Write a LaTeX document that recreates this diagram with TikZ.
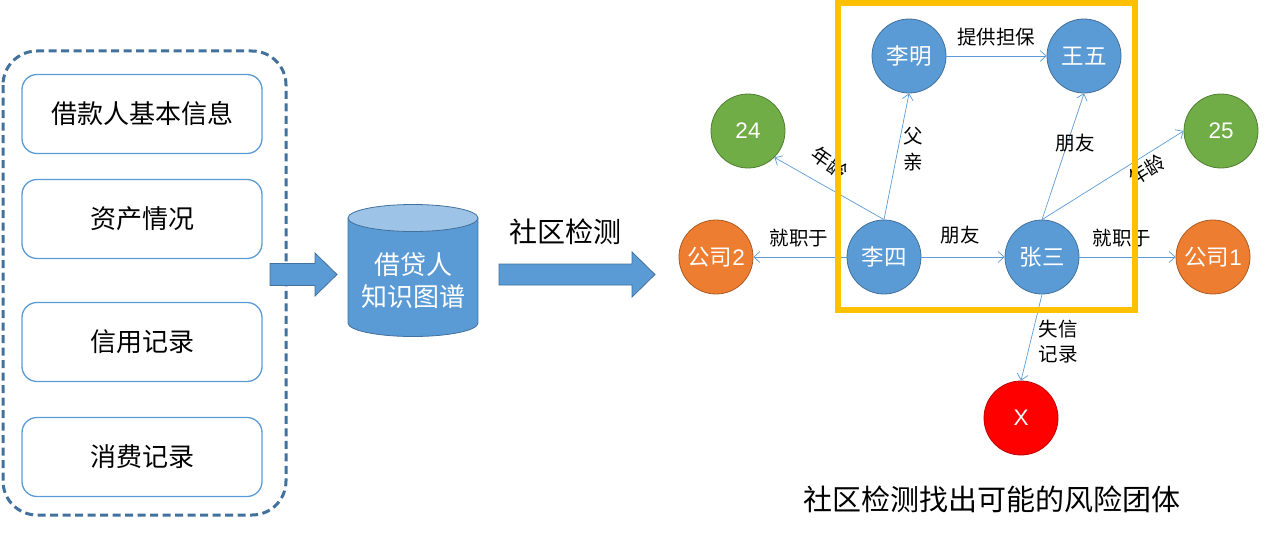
\documentclass[tikz,border=0pt]{standalone}
\usepackage{fontspec}
\setmainfont{Noto Sans CJK SC}
\newfontfamily\lat{Liberation Sans}
\usetikzlibrary{arrows.meta}
\definecolor{nblue}{HTML}{5B9BD5}
\definecolor{dblue}{HTML}{41719C}
\definecolor{lblue}{HTML}{9DC3E6}
\definecolor{ngreen}{HTML}{70AD47}
\definecolor{dgreen}{HTML}{507E32}
\definecolor{norange}{HTML}{ED7D31}
\definecolor{dorange}{HTML}{AE5A21}
\definecolor{nred}{HTML}{FF0000}
\definecolor{dred}{HTML}{C00000}
\definecolor{ygold}{HTML}{FFC000}
\begin{document}
\begin{tikzpicture}[x=1pt,y=-1pt,
  infobox/.style={draw=nblue, line width=1.3pt, rounded corners=15pt, minimum width=240pt, minimum height=79pt, inner sep=0pt, font=\fontsize{26}{30}\selectfont},
  ent/.style={circle, minimum size=74pt, inner sep=0pt, text=white, font=\fontsize{22.5}{26}\selectfont, line width=0.8pt},
  person/.style={ent, fill=nblue, draw=dblue},
  agenode/.style={ent, fill=ngreen, draw=dgreen},
  compnode/.style={ent, fill=norange, draw=dorange},
  badnode/.style={ent, fill=nred, draw=dred},
  rel/.style={draw=nblue, line width=0.7pt, -{Straight Barb[length=6pt,width=11pt]}},
  lab/.style={font=\fontsize{19.5}{26}\selectfont, inner sep=1pt, align=center},
  blockarrow/.style={fill=nblue, draw=dblue, line width=0.8pt},
]
\useasboundingbox (0,0) rectangle (1271,535);

% left dashed group
\draw[draw=dblue, line width=3pt, dash pattern=on 8pt off 4.5pt, rounded corners=34pt] (3,51) rectangle (286,515);
\node[infobox] (b1) at (142,114) {借款人基本信息};
\node[infobox] (b2) at (142,219) {资产情况};
\node[infobox] (b3) at (142,342) {信用记录};
\node[infobox] (b4) at (142,457) {消费记录};

% block arrow 1
\draw[blockarrow] (270,263.5) -- (315,263.5) -- (315,253) -- (337,274.5) -- (315,296) -- (315,285.5) -- (270,285.5) -- cycle;

% cylinder
\fill[nblue] (348,218) rectangle (478,323);
\fill[nblue] (413,323) ellipse [x radius=65, y radius=13.5];
\draw[dblue, line width=0.8pt] (348,218) -- (348,323) arc (180:360:65pt and 13.5pt) -- (478,218);
\draw[dblue, line width=0.8pt, fill=lblue] (413,218) ellipse [x radius=65, y radius=13.5];
\node[text=white, font=\fontsize{26}{32}\selectfont, align=center, inner sep=0pt] (kg) at (413,281) {借贷人\\知识图谱};

% block arrow 2
\draw[blockarrow] (499,264) -- (632,264) -- (632,252) -- (655,274.5) -- (632,297) -- (632,285) -- (499,285) -- cycle;
\node[font=\fontsize{28}{32}\selectfont, inner sep=0pt] (cd) at (565,232) {社区检测};

% graph nodes
\node[person] (liming) at (909,56) {李明};
\node[person] (wangwu) at (1084,56) {王五};
\node[person] (lisi) at (884,257) {李四};
\node[person] (zs) at (1042,257) {张三};
\node[compnode] (gs2) at (716,257) {公司{\lat 2}};
\node[compnode] (gs1) at (1213,257) {公司{\lat 1}};
\node[agenode] (a24) at (748,131) {\lat 24};
\node[agenode] (a25) at (1221,131) {\lat 25};
\node[badnode] (x) at (1021,418) {\lat X};

% relations
\draw[rel] (liming.east) -- (wangwu.west);
\draw[rel] (lisi.west) -- (gs2.east);
\draw[rel] (lisi.east) -- (zs.west);
\draw[rel] (zs.east) -- (gs1.west);
\draw[rel] (lisi.north) -- (a24.-45);
\draw[rel] (lisi.north) -- (liming.south);
\draw[rel] (zs.north) -- (wangwu.south);
\draw[rel] (zs.north) -- (a25.west);
\draw[rel] (zs.south) -- (x.north);

% labels
\node[lab] (l1) at (996,37) {提供担保};
\node[lab] (l2) at (799,238) {就职于};
\node[lab] (l3) at (960,235) {朋友};
\node[lab] (l4) at (1122,238) {就职于};
\node[lab] (l5) at (913,149) {父\\亲};
\node[lab] (l6) at (1075,143) {朋友};
\node[lab, rotate=-35] (l7) at (830,163) {年龄};
\node[lab, rotate=32] (l8) at (1147,170) {年龄};
\node[lab, font=\fontsize{19.5}{25}\selectfont] (l9) at (1058,342) {失信\\记录};

% highlight frame
\draw[ygold, line width=6pt] (838,3) rectangle (1135,310);

\node[font=\fontsize{29}{32}\selectfont, inner sep=0pt] (title) at (992,499) {社区检测找出可能的风险团体};
\end{tikzpicture}
\end{document}
